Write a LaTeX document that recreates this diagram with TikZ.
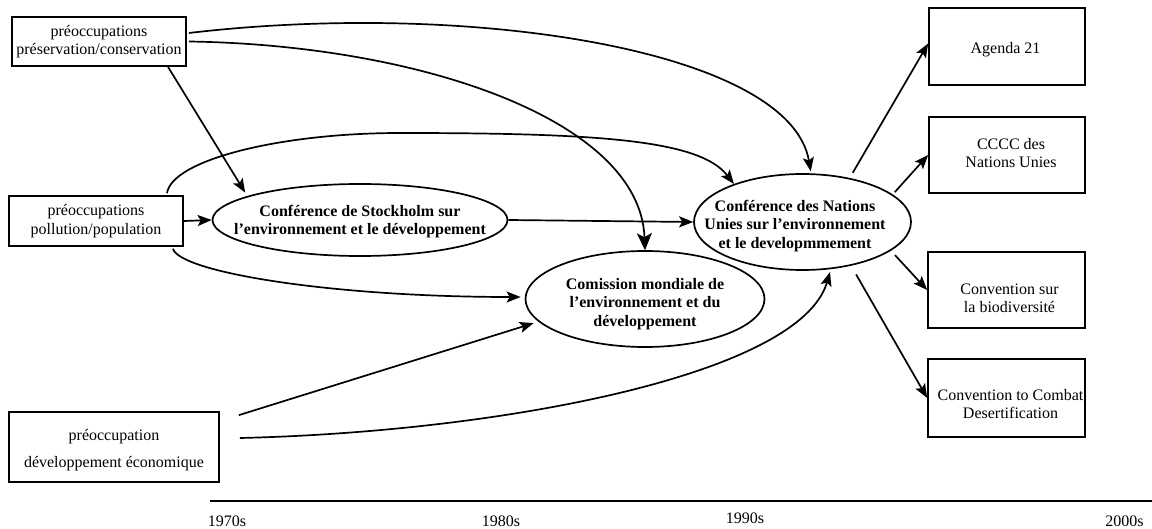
\documentclass[tikz,border=0pt]{standalone}
\usepackage{fontspec}
\setmainfont{Liberation Serif}
\usetikzlibrary{shapes.geometric,arrows.meta,calc}
\newcommand\diagfont{\fontsize{16}{18.4}\selectfont}
\newcommand\widefont{\fontsize{16}{27}\selectfont}
\begin{document}
\begin{tikzpicture}[x=1pt,y=-1pt,
  box/.style={draw,line width=1.7pt,inner sep=0pt,align=center,font=\diagfont},
  oval/.style={draw,ellipse,line width=1.7pt,inner sep=0pt},
  lbl/.style={inner sep=0pt,align=center,font=\diagfont},
  bold/.style={lbl,font=\diagfont\bfseries},
  link/.style={line width=1.7pt,-{Stealth[length=14pt,width=11pt,inset=3pt]}},
  bigtip/.style={-{Stealth[length=17pt,width=15pt,inset=4pt]}},
  axis/.style={line width=1.8pt},
]
\useasboundingbox (0,0) rectangle (1152,529);

% concerns on the left
\node[box,minimum width=174pt,minimum height=49pt] (pres) at (99,41.5)
  {préoccupations\\préservation/conservation};
\node[box,minimum width=174pt,minimum height=50pt] (poll) at (96,221)
  {préoccupations\\pollution/population};
\node[box,minimum width=210pt,minimum height=70pt] (econ) at (114,447) {};
\node[lbl,font=\widefont] (econ-t) at (114,450.5)
  {préoccupation\\développement économique};

% conferences and commission
\node[oval,minimum width=295pt,minimum height=72pt] (stock) at (360,220) {};
\node[bold] (stock-t) at (360,221.5)
  {Conférence de Stockholm sur\\l’environnement et le développement};
\node[oval,minimum width=217pt,minimum height=96pt] (un) at (802.5,222) {};
\node[bold] (un-t) at (795,226)
  {Conférence des Nations\\Unies sur l’environnement\\et le developmmement};
\node[oval,minimum width=239pt,minimum height=96pt] (com) at (645,299) {};
\node[bold] (com-t) at (645,304)
  {Comission mondiale de\\l’environnement et du\\développement};

% outcomes on the right
\node[box,minimum width=156pt,minimum height=77pt] (agenda) at (1007,46.5) {};
\node[lbl] (agenda-t) at (1005.5,50) {Agenda 21};
\node[box,minimum width=156pt,minimum height=76pt] (cccc) at (1007,155) {};
\node[lbl] (cccc-t) at (1011,153) {CCCC des\\Nations Unies};
\node[box,minimum width=157pt,minimum height=76pt] (bio) at (1006.5,290) {};
\node[lbl] (bio-t) at (1009.5,298) {Convention sur\\la biodiversité};
\node[box,minimum width=157pt,minimum height=78pt] (desert) at (1006.5,398) {};
\node[lbl] (desert-t) at (1010.5,404) {Convention to Combat\\Desertification};

% influences
\draw[link,shorten >=4pt] ([xshift=69pt]pres.south) -- (stock.168);
\draw[link,shorten >=2pt] ([shift={(2pt,8.5pt)}]pres.east)
  .. controls (470,0) and (790,50) .. (un.80);
\draw[link,bigtip] ([xshift=2pt]pres.east)
  .. controls (420,45) and (640,120) .. (com.north);
\draw[link] (poll.east) -- (stock.west);
\draw[link] ([shift={(71pt,2pt)}]poll.north)
  .. controls (172,160) and (280,133) .. (400,133)
  .. controls (600,133) and (700,140) .. (un.151);
\draw[link,shorten >=4pt] ([shift={(77pt,-2pt)}]poll.south)
  .. controls (180,272) and (330,297) .. ([yshift=2pt]com.west);
\draw[link] (stock.east) -- (un.west);
\draw[link,shorten >=5pt] ([shift={(19pt,-4pt)}]econ.north east) -- (com.192);
\draw[link,shorten >=3pt] ([shift={(20pt,9pt)}]econ.east)
  .. controls (500,432) and (800,375) .. (un.-59);

% outcomes of the Rio conference
\draw[link,shorten <=6pt] (un.43) -- ([yshift=3pt]agenda.west);
\draw[link,shorten <=3pt] (un.17) -- (cccc.west);
\draw[link,shorten <=6pt] (un.-18) -- (bio.west);
\draw[link,shorten <=10pt] (un.-42) -- (desert.west);

% time axis
\coordinate (t0) at (210,501);
\coordinate (t1) at (1152,501);
\draw[axis] (t0) -- (t1);
\node[lbl] (d70) at (227,521) {1970s};
\node[lbl] (d80) at (501,521) {1980s};
\node[lbl] (d90) at (745,518) {1990s};
\node[lbl] (d00) at (1124.5,521) {2000s};
\end{tikzpicture}
\end{document}
